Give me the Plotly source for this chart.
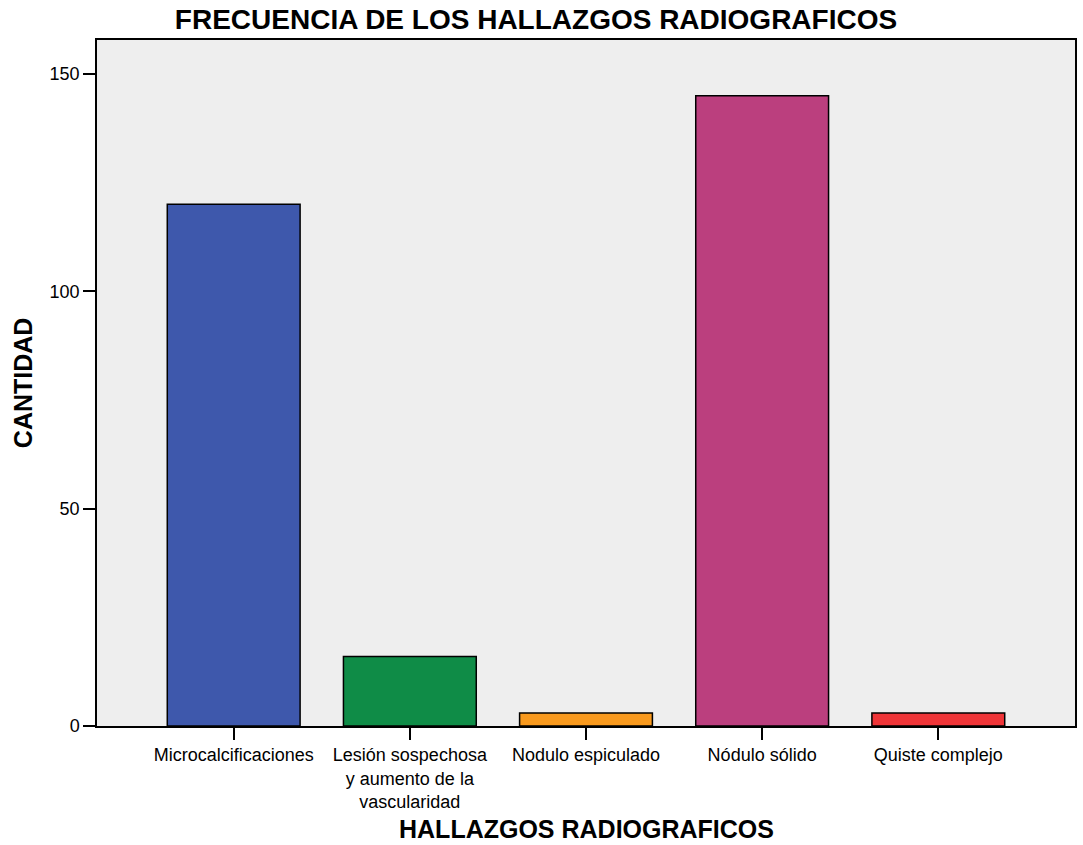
import plotly.graph_objects as go

categories = ["Microcalcificaciones", "Lesión sospechosa<br>y aumento de la<br>vascularidad",
              "Nodulo espiculado", "Nódulo sólido", "Quiste complejo"]
values = [120, 16, 3, 145, 3]
colors = ["#3E58AC", "#0F8C47", "#F99A1E", "#BB3F7E", "#EF3538"]
y_ticks = [0, 50, 100, 150]

font = "Liberation Sans, Arial, sans-serif"

fig = go.Figure(go.Bar(
    x=list(range(len(categories))), y=values,
    marker=dict(color=colors, line=dict(color="black", width=1.5)),
    width=0.754,
))

W, H = 1083, 845
fig.update_layout(
    width=W, height=H,
    margin=dict(l=97, r=6, t=40, b=119),
    paper_bgcolor="white", plot_bgcolor="#EEEEEE",
    font=dict(family=font, color="black", size=18),
    showlegend=False,
    title=dict(text="<b>FRECUENCIA DE LOS HALLAZGOS RADIOGRAFICOS</b>",
               x=536 / W, xanchor="center", y=1 - 19.5 / H, yanchor="middle",
               font=dict(size=28, family=font, color="black")),
    annotations=[
        dict(text="<b>HALLAZGOS RADIOGRAFICOS</b>", xref="paper", yref="paper",
             x=0.5, y=-103 / 686, xanchor="center", yanchor="middle", showarrow=False,
             font=dict(size=25, family=font, color="black")),
        dict(text="<b>CANTIDAD</b>", xref="paper", yref="paper",
             x=-74 / 980, y=0.5, xanchor="center", yanchor="middle", showarrow=False,
             textangle=-90, font=dict(size=25, family=font, color="black")),
    ],
)
fig.update_xaxes(
    range=[-0.776, 4.776], tickmode="array",
    tickvals=list(range(len(categories))), ticktext=categories,
    ticks="outside", ticklen=12, tickwidth=2, tickcolor="black",
    showline=True, linecolor="black", linewidth=1.5, mirror=True,
    showgrid=False, zeroline=False,
    tickfont=dict(size=18, family=font),
)
fig.update_yaxes(
    range=[0, 157.8], tickmode="array", tickvals=y_ticks,
    ticks="outside", ticklen=12, tickwidth=2, tickcolor="black",
    showline=True, linecolor="black", linewidth=1.5, mirror=True,
    showgrid=False, zeroline=False,
    tickfont=dict(size=18, family=font),
)

fig.write_html("out.html",
               config={"displayModeBar": False},
               post_script="document.body.style.margin='0';document.body.style.overflow='hidden';")
